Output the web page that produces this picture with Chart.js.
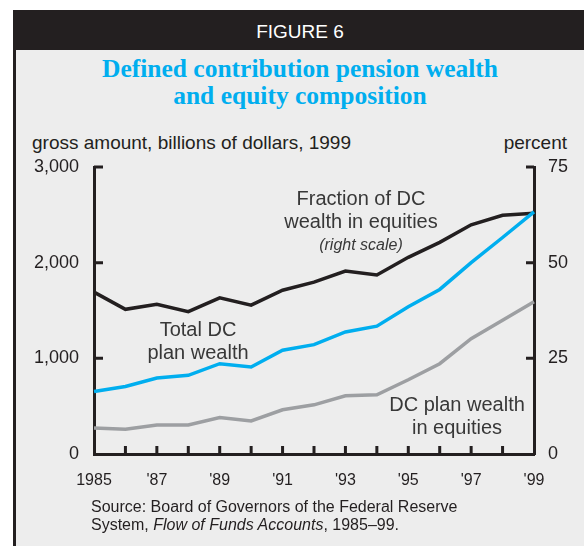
<!DOCTYPE html>
<html>
<head>
<meta charset="utf-8">
<script src="https://cdn.jsdelivr.net/npm/chart.js@4"></script>
<style>
  body { margin: 0; width: 584px; height: 546px; position: relative; overflow: hidden; background: #fff;
         font-family: "Liberation Sans", Arial, sans-serif; }
  .abs { position: absolute; white-space: nowrap; }
  #header { left: 13px; top: 10px; width: 571px; height: 40px; background: #231f20; }
  #panel { left: 13px; top: 50px; width: 571px; height: 496px; background: #ededed;
           border-left: 3px solid #231f20; box-sizing: border-box; }
  #fig { left: 100px; width: 400px; top: 22px; text-align: center; color: #fff; font-size: 19px; line-height: 19px; }
  #title { left: 50px; width: 500px; top: 55px; text-align: center; color: #00aeef;
           font-family: "Liberation Serif", "Times New Roman", serif; font-weight: bold; font-size: 25.5px; line-height: 27px; }
  .axt { font-size: 19px; line-height: 19px; color: #231f20; top: 133px; }
  .note { text-align: center; color: #383838; font-size: 20px; line-height: 22.5px; width: 240px; }
  #source { left: 91px; top: 498px; font-size: 16px; line-height: 17.5px; color: #231f20; }
  canvas { position: absolute; left: 0; top: 0; }
</style>
</head>
<body>
<div id="header" class="abs"></div>
<div id="panel" class="abs"></div>
<div id="fig" class="abs">FIGURE 6</div>
<div id="title" class="abs">Defined contribution pension wealth<br>and equity composition</div>
<div class="abs axt" style="left:32px">gross amount, billions of dollars, 1999</div>
<div class="abs axt" style="right:17px">percent</div>
<canvas id="chart" width="584" height="546"></canvas>
<div class="abs note" style="left:241px; top:187px">Fraction of DC<br>wealth in equities<br><i style="font-size:16px">(right scale)</i></div>
<div class="abs note" style="left:78px; top:318px">Total DC<br>plan wealth</div>
<div class="abs note" style="left:337px; top:393px">DC plan wealth<br>in equities</div>
<div id="source" class="abs">Source: Board of Governors of the Federal Reserve<br>System, <i>Flow of Funds Accounts</i>, 1985–99.</div>
<script>
const years = [1985, 1986, 1987, 1988, 1989, 1990, 1991, 1992, 1993, 1994, 1995, 1996, 1997, 1998, 1999];
const xTickLabels = ["1985", "", "'87", "", "'89", "", "'91", "", "'93", "", "'95", "", "'97", "", "'99"];

// billions of dollars (left scale)
const totalWealth = [654, 706, 794, 822, 944, 909, 1084, 1143, 1276, 1336, 1539, 1720, 2000, 2263, 2531];
const equityWealth = [273, 259, 304, 304, 381, 346, 462, 514, 608, 619, 776, 944, 1206, 1398, 1591];
// percent (right scale)
const equityShare = [42.3, 37.8, 39.1, 37.2, 40.8, 38.9, 42.8, 44.9, 47.8, 46.8, 51.4, 55.3, 59.9, 62.4, 62.9];

const leftTicks = [0, 1000, 2000, 3000];
const leftTickLabels = ["0", "1,000", "2,000", "3,000"];
const rightTicks = [0, 25, 50, 75];
const rightTickLabels = ["0", "25", "50", "75"];

const ink = "#231f20";

// short tick marks pointing into the plot
const innerTicks = {
  id: "innerTicks",
  afterDraw(chart) {
    const { ctx, chartArea: a, scales } = chart;
    ctx.save();
    ctx.strokeStyle = ink;
    ctx.lineWidth = 3;
    ctx.beginPath();
    years.slice(1, -1).forEach((yr, i) => {
      const x = scales.x.getPixelForValue(i + 1);
      ctx.moveTo(x, a.bottom);
      ctx.lineTo(x, a.bottom - 8);
    });
    leftTicks.slice(1).forEach((v) => {
      const y = scales.y.getPixelForValue(v);
      ctx.moveTo(a.left, y);
      ctx.lineTo(a.left + 9, y);
    });
    rightTicks.slice(1).forEach((v) => {
      const y = scales.y2.getPixelForValue(v);
      ctx.moveTo(a.right, y);
      ctx.lineTo(a.right - 8, y);
    });
    ctx.stroke();
    ctx.restore();
  },
};

const lineSet = (data, color, axis) => ({
  data,
  borderColor: color,
  borderWidth: 3.5,
  pointRadius: 0,
  tension: 0,
  yAxisID: axis,
  borderCapStyle: "butt",
  borderJoinStyle: "miter",
});

new Chart(document.getElementById("chart"), {
  type: "line",
  data: {
    labels: years,
    datasets: [
      lineSet(equityWealth, "#9d9fa2", "y"),
      lineSet(totalWealth, "#00aeef", "y"),
      lineSet(equityShare, ink, "y2"),
    ],
  },
  options: {
    responsive: false,
    animation: false,
    events: [],
    layout: { padding: { top: 167, left: 0, right: 0, bottom: 0 } },
    plugins: { legend: { display: false }, tooltip: { enabled: false } },
    scales: {
      x: {
        type: "category",
        offset: false,
        grid: { display: false, drawTicks: false },
        border: { display: true, width: 3, color: ink },
        ticks: {
          autoSkip: false,
          maxRotation: 0,
          padding: 17,
          color: ink,
          font: { size: 16, family: "'Liberation Sans', Arial, sans-serif" },
          callback: (v, i) => xTickLabels[i],
        },
        afterFit: (s) => { s.height = 92; },
      },
      y: {
        position: "left",
        min: 0,
        max: 3000,
        grid: { display: false, drawTicks: false },
        border: { display: true, width: 3, color: ink },
        afterBuildTicks: (s) => { s.ticks = leftTicks.map((v) => ({ value: v })); },
        ticks: {
          padding: 15,
          color: ink,
          font: { size: 18, family: "'Liberation Sans', Arial, sans-serif" },
          callback: (v) => leftTickLabels[leftTicks.indexOf(v)],
        },
        afterFit: (s) => { s.width = 94; },
      },
      y2: {
        position: "right",
        min: 0,
        max: 75,
        grid: { display: false, drawTicks: false },
        border: { display: true, width: 3, color: ink },
        afterBuildTicks: (s) => { s.ticks = rightTicks.map((v) => ({ value: v })); },
        ticks: {
          padding: 14,
          color: ink,
          font: { size: 18, family: "'Liberation Sans', Arial, sans-serif" },
          callback: (v) => rightTickLabels[rightTicks.indexOf(v)],
        },
        afterFit: (s) => { s.width = 50; },
      },
    },
  },
  plugins: [innerTicks],
});
</script>
</body>
</html>
